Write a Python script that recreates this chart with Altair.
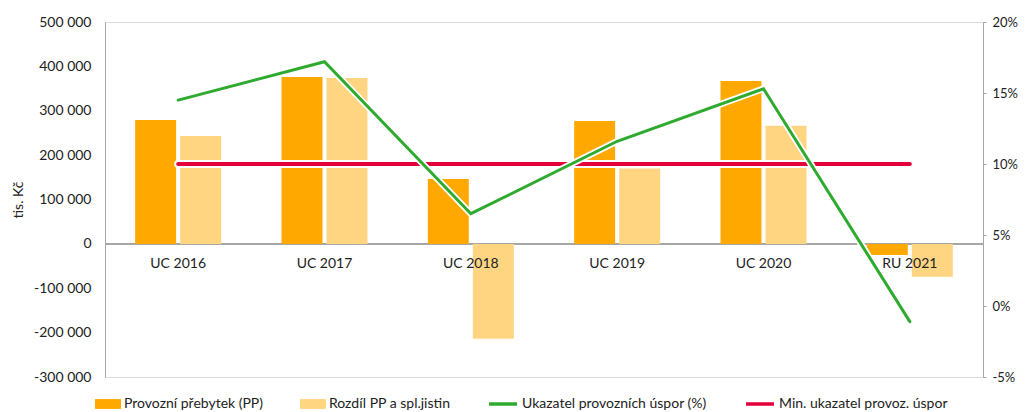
import altair as alt
import pandas as pd

categories = ["UC 2016", "UC 2017", "UC 2018", "UC 2019", "UC 2020", "RU 2021"]
pp = [279000, 376000, 146000, 277000, 367000, -25000]
rozdil = [243000, 374000, -214000, 170000, 266000, -74000]
ukazatel = [14.5, 17.2, 6.5, 11.6, 15.3, -1.1]
minimum = [10, 10, 10, 10, 10, 10]

bar_names = ["Provozní přebytek (PP)", "Rozdíl PP a spl.jistin"]
line_names = ["Ukazatel provozních úspor (%)", "Min. ukazatel provoz. úspor"]
bar_colors = ["#FFA800", "#FFD582"]
line_colors = ["#2EAA2E", "#E4003A"]

FONT = "Lato"

bars_df = pd.DataFrame(
    [{"kat": c, "serie": bar_names[0], "hodnota": v} for c, v in zip(categories, pp)]
    + [{"kat": c, "serie": bar_names[1], "hodnota": v} for c, v in zip(categories, rozdil)]
)
green_df = pd.DataFrame({"kat": categories, "serie": line_names[0], "pct": ukazatel})
red_df = pd.DataFrame({"kat": categories, "serie": line_names[1], "pct": minimum})
labels_df = pd.DataFrame({"kat": categories, "nula": [0] * len(categories)})

x_enc = alt.X("kat:N", sort=categories, axis=None,
              scale=alt.Scale(paddingInner=0, paddingOuter=0))

left_axis = alt.Axis(
    values=[-300000, -200000, -100000, 0, 100000, 200000, 300000, 400000, 500000],
    labelExpr="(datum.value < 0 ? '-' : '') + replace(format(abs(datum.value), ','), ',', ' ')",
    ticks=False, grid=False, domainColor="#A6A6A6", labelPadding=14,
    labelFontSize=14, labelColor="#222222", labelFont=FONT,
    title="tis. Kč", titleFont=FONT, titleFontSize=14, titleFontWeight="normal",
    titleColor="#222222", titlePadding=8,
)
y_left = alt.Scale(domain=[-300000, 500000], nice=False, zero=False)

zero_rule = alt.Chart(labels_df).mark_rule(color="#A6A6A6", strokeWidth=1.3).encode(
    y=alt.Y("nula:Q", scale=y_left, axis=left_axis)
)

bars = alt.Chart(bars_df).mark_bar().encode(
    x=x_enc,
    xOffset=alt.XOffset("serie:N", sort=bar_names,
                        scale=alt.Scale(paddingInner=0.09, paddingOuter=0.67)),
    y=alt.Y("hodnota:Q", scale=y_left, axis=left_axis),
    fill=alt.Fill("serie:N", sort=bar_names,
                  scale=alt.Scale(domain=bar_names, range=bar_colors),
                  legend=alt.Legend(
                      title=None, orient="none", legendX=-10, legendY=369,
                      direction="horizontal", columnPadding=36,
                      symbolType="M-1,-0.38H1V0.38H-1Z", symbolSize=676,
                      symbolStrokeWidth=0, labelOffset=3, labelLimit=400,
                      labelFont=FONT, labelFontSize=14, labelColor="#222222",
                  )),
)

cat_labels = alt.Chart(labels_df).mark_text(
    dy=20, font=FONT, fontSize=14, color="#222222", baseline="middle"
).encode(
    x=x_enc,
    y=alt.Y("nula:Q", scale=y_left, axis=left_axis),
    text="kat:N",
)

left = alt.layer(zero_rule, bars, cat_labels)

right_axis = alt.Axis(
    orient="right", values=[-5, 0, 5, 10, 15, 20],
    labelExpr="datum.value + '%'", grid=False,
    domainColor="#A6A6A6", tickColor="#A6A6A6", tickSize=3, labelPadding=6,
    labelFontSize=13, labelColor="#222222", labelFont=FONT, title=None,
)
y_right = alt.Scale(domain=[-5, 20], nice=False, zero=False)

def line_layer(df, color_enc, width):
    return alt.Chart(df).mark_line(strokeWidth=width, strokeCap="round").encode(
        x=x_enc,
        y=alt.Y("pct:Q", scale=y_right, axis=right_axis),
        **color_enc,
    )

stroke_enc = alt.Stroke("serie:N", sort=line_names,
                        scale=alt.Scale(domain=line_names, range=line_colors),
                        legend=alt.Legend(
                            title=None, orient="none", legendX=382, legendY=366,
                            direction="horizontal", columnPadding=32,
                            symbolType="stroke", symbolSize=784,
                            symbolStrokeWidth=3.5, labelOffset=3, labelLimit=400,
                            labelFont=FONT, labelFontSize=14, labelColor="#222222",
                        ))

red_halo = line_layer(red_df, {"stroke": alt.value("white")}, 8)
red_line = line_layer(red_df, {"stroke": stroke_enc}, 4)
green_halo = line_layer(green_df, {"stroke": alt.value("white")}, 6.5)
green_line = line_layer(green_df, {"stroke": stroke_enc}, 3)

right = alt.layer(red_halo, red_line, green_halo, green_line)

chart = alt.layer(left, right).resolve_scale(y="independent").properties(
    width=878, height=355,
    autosize=alt.AutoSizeParams(type="none"),
    padding={"left": 97, "top": 14, "right": 35, "bottom": 35},
).configure_view(stroke=None).configure(background="white")

chart.save("out.html", embed_options={"renderer": "svg", "actions": False})
